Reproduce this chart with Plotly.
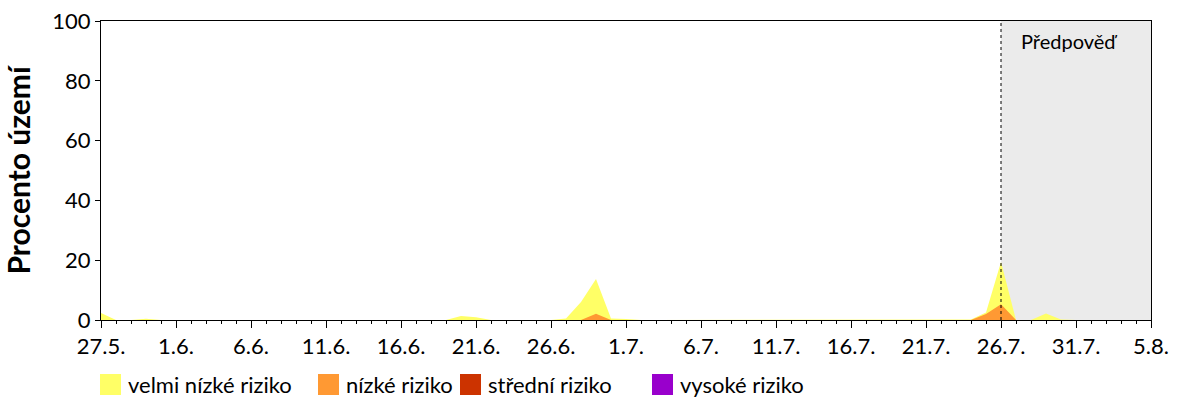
import plotly.graph_objects as go
import pandas as pd

# Daily dates 27.5. - 5.8.
start_date = "2025-05-27"
end_date = "2025-08-05"
forecast_start = "2025-07-26"
dates = pd.date_range(start_date, end_date, freq="D")

# Percent of territory, one per day
velmi_nizke = [2.3, 0, 0, 0.4, 0, 0, 0, 0, 0, 0,
               0, 0, 0, 0, 0, 0, 0, 0, 0, 0,
               0, 0, 0, 0, 1.3, 0.9, 0, 0, 0, 0,
               0, 0.5, 6.0, 13.7, 0.5, 0.3, 0, 0, 0, 0,
               0, 0, 0, 0, 0, 0, 0, 0, 0, 0,
               0, 0, 0, 0, 0, 0, 0, 0, 0.2, 2.5,
               19.4, 0, 0, 2.2, 0.2, 0, 0, 0, 0, 0,
               0]
nizke = [0, 0, 0, 0, 0, 0, 0, 0, 0, 0,
         0, 0, 0, 0, 0, 0, 0, 0, 0, 0,
         0, 0, 0, 0, 0, 0, 0, 0, 0, 0,
         0, 0, 0, 2.1, 0, 0, 0, 0, 0, 0,
         0, 0, 0, 0, 0, 0, 0, 0, 0, 0,
         0, 0, 0, 0, 0, 0, 0, 0, 0, 2.0,
         5.3, 0, 0, 0, 0, 0, 0, 0, 0, 0,
         0]
stredni = [0, 0, 0, 0, 0, 0, 0, 0, 0, 0,
           0, 0, 0, 0, 0, 0, 0, 0, 0, 0,
           0, 0, 0, 0, 0, 0, 0, 0, 0, 0,
           0, 0, 0, 0, 0, 0, 0, 0, 0, 0,
           0, 0, 0, 0, 0, 0, 0, 0, 0, 0,
           0, 0, 0, 0, 0, 0, 0, 0, 0, 0,
           0, 0, 0, 0, 0, 0, 0, 0, 0, 0,
           0]
vysoke = [0, 0, 0, 0, 0, 0, 0, 0, 0, 0,
          0, 0, 0, 0, 0, 0, 0, 0, 0, 0,
          0, 0, 0, 0, 0, 0, 0, 0, 0, 0,
          0, 0, 0, 0, 0, 0, 0, 0, 0, 0,
          0, 0, 0, 0, 0, 0, 0, 0, 0, 0,
          0, 0, 0, 0, 0, 0, 0, 0, 0, 0,
          0, 0, 0, 0, 0, 0, 0, 0, 0, 0,
          0]

series_names = ["velmi nízké riziko", "nízké riziko", "střední riziko", "vysoké riziko"]
series_values = [velmi_nizke, nizke, stredni, vysoke]
series_colors = ["#ffff66", "#ff9933", "#cc3300", "#9900cc"]

FONT = "Lato, Carlito, Calibri, sans-serif"

# layout geometry (pixels)
W, H = 1200, 400
ML, MR, MT, MB = 101, 49, 21, 80
PW, PH = W - ML - MR, H - MT - MB

fig = go.Figure()
for name, vals, col in zip(series_names, series_values, series_colors):
    fig.add_trace(go.Scatter(
        x=dates, y=vals, mode="lines", fill="tozeroy",
        fillcolor=col, line=dict(width=0, color=col),
        showlegend=False, hoverinfo="x+y", name=name))

# forecast region
fig.add_shape(type="rect", xref="x", yref="y",
              x0=forecast_start, x1=end_date, y0=0, y1=100,
              fillcolor="#ebebeb", line=dict(width=0), layer="below")
fig.add_shape(type="line", xref="x", yref="y",
              x0=forecast_start, x1=forecast_start, y0=0, y1=100,
              line=dict(color="black", width=1, dash="dot"), layer="above")
fig.add_annotation(x=pd.Timestamp(forecast_start) + (pd.Timestamp(end_date) - pd.Timestamp(forecast_start)) / 2,
                   y=100, xref="x", yref="y", yanchor="top", yshift=-6, xshift=-7,
                   text="Předpověď", showarrow=False,
                   font=dict(family=FONT, size=20, color="black"))

# legend (Excel-like: square keys with labels)
legend_left_px = [100, 318, 460, 652]
key_size = 21
key_top_px, key_bottom_px = 374, 395
for name, col, lx in zip(series_names, series_colors, legend_left_px):
    fig.add_shape(type="rect", xref="paper", yref="paper",
                  x0=(lx - ML) / PW, x1=(lx + key_size - ML) / PW,
                  y0=(MT + PH - key_bottom_px) / PH, y1=(MT + PH - key_top_px) / PH,
                  fillcolor=col, line=dict(width=0))
    fig.add_annotation(x=(lx + key_size + 5 - ML) / PW, xref="paper", xanchor="left",
                       y=(MT + PH - (key_top_px + key_bottom_px) / 2) / PH, yref="paper",
                       yanchor="middle", text=name, showarrow=False,
                       font=dict(family=FONT, size=22, color="black"))

fig.update_layout(
    width=W, height=H,
    margin=dict(l=ML, r=MR, t=MT, b=MB, autoexpand=False),
    paper_bgcolor="white", plot_bgcolor="white",
    font=dict(family=FONT, size=21, color="black"),
    showlegend=False,
    hovermode="x",
)
fig.update_xaxes(
    type="date", range=[start_date, end_date],
    tick0=start_date, dtick=5 * 86400000, tickformat="%-d.%-m.",
    ticks="outside", ticklen=7, tickcolor="black",
    minor=dict(dtick=86400000, ticks="outside", ticklen=3, tickcolor="black"),
    showline=True, linecolor="black", linewidth=1, mirror=True,
    showgrid=False, zeroline=False,
    tickfont=dict(family=FONT, size=22),
)
fig.update_yaxes(
    range=[0, 100], dtick=20, ticks="outside", ticklen=5, tickcolor="black",
    showline=True, linecolor="black", linewidth=1, mirror=True,
    showgrid=False, zeroline=False,
    title=dict(text="<b>Procento území</b>", font=dict(family=FONT, size=30), standoff=14),
    tickfont=dict(family=FONT, size=22),
)

fig.write_html("out.html")
